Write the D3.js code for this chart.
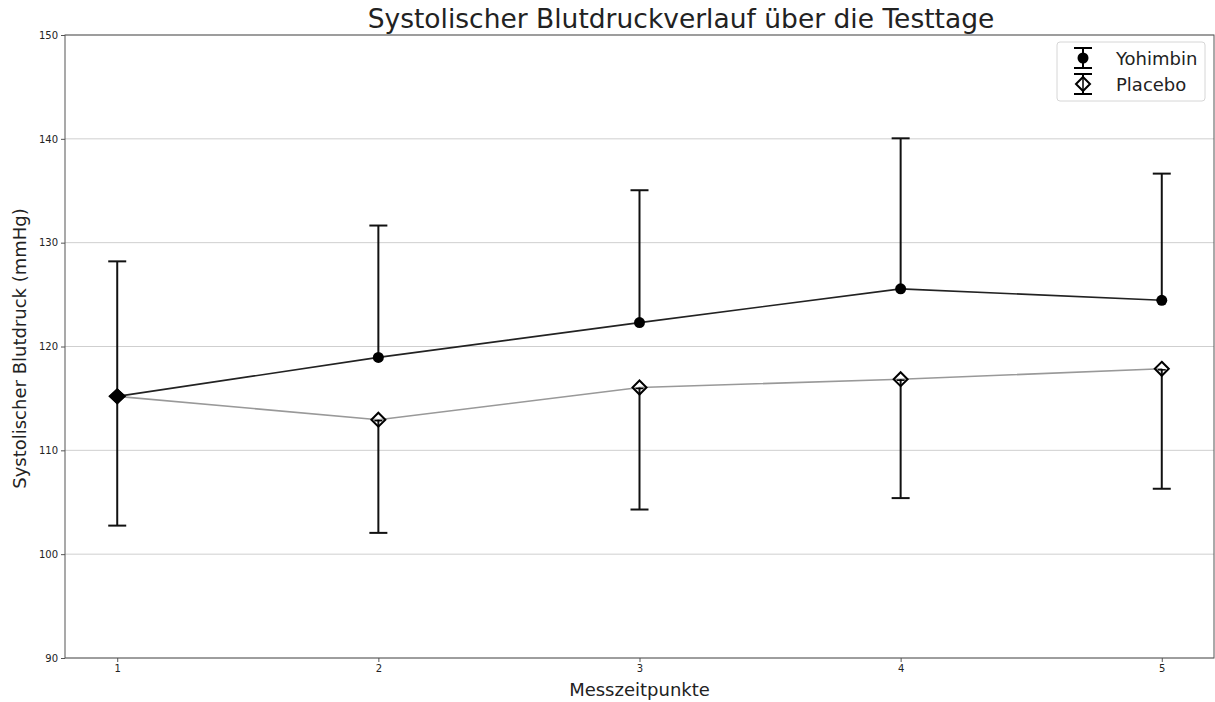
<!DOCTYPE html>
<html>
<head>
<meta charset="utf-8">
<script src="https://cdn.jsdelivr.net/npm/d3@7"></script>
<style>
  body { margin: 0; background: #fff; }
  text { font-family: "DejaVu Sans", sans-serif; }
</style>
</head>
<body>
<svg id="chart" width="1215" height="702"></svg>
<script>
const zeitpunkte = [1, 2, 3, 4, 5]
const yohimbinMean = [115.2, 118.95, 122.3, 125.55, 124.45]
const yohimbinUpper = [128.2, 131.65, 135.05, 140.05, 136.65]
const placeboMean = [115.2, 112.95, 116.05, 116.85, 117.85]
const placeboLower = [102.75, 102.05, 104.3, 105.4, 106.3]
const yTicks = [90, 100, 110, 120, 130, 140, 150]

const mLeft = 65, mRight = 1214, mTop = 35, mBottom = 658

const svg = d3.select('#chart')

const x = d3.scaleLinear().domain([0.8, 5.2]).range([mLeft, mRight])
const y = d3.scaleLinear().domain([90, 150]).range([mBottom, mTop])

// grid
svg.append('g')
  .selectAll('line')
  .data(yTicks)
  .enter()
  .append('line')
  .attr('x1', mLeft)
  .attr('x2', mRight)
  .attr('y1', d => y(d))
  .attr('y2', d => y(d))
  .attr('stroke', '#cfcfcf')
  .attr('stroke-width', 1)

// axes
const yAxis = svg.append('g')
  .attr('transform', `translate(${mLeft},0)`)
  .call(d3.axisLeft(y).tickValues(yTicks).tickSize(4).tickPadding(3))
yAxis.select('.domain').remove()

const xAxis = svg.append('g')
  .attr('transform', `translate(0,${mBottom})`)
  .call(d3.axisBottom(x).tickValues(zeitpunkte).tickSize(4).tickPadding(3).tickFormat(d3.format('d')))
xAxis.select('.domain').remove()

svg.selectAll('.tick line').attr('stroke', '#555')
svg.selectAll('.tick text')
  .attr('fill', '#222')
  .style('font-size', '10px')
  .style('font-family', 'DejaVu Sans')

// frame
svg.append('rect')
  .attr('x', mLeft)
  .attr('y', mTop)
  .attr('width', mRight - mLeft)
  .attr('height', mBottom - mTop)
  .attr('fill', 'none')
  .attr('stroke', '#555')
  .attr('stroke-width', 1)

const yoh = zeitpunkte.map((t, i) => ({t: t, m: yohimbinMean[i], e: yohimbinUpper[i]}))
const pla = zeitpunkte.map((t, i) => ({t: t, m: placeboMean[i], e: placeboLower[i]}))

const line = d3.line().x(d => x(d.t)).y(d => y(d.m))

svg.append('path')
  .datum(pla)
  .attr('d', line)
  .attr('fill', 'none')
  .attr('stroke', '#999')
  .attr('stroke-width', 1.6)

svg.append('path')
  .datum(yoh)
  .attr('d', line)
  .attr('fill', 'none')
  .attr('stroke', '#222')
  .attr('stroke-width', 1.6)

function errorBars(data) {
  let g = svg.append('g').selectAll('g').data(data).enter().append('g')
  g.append('line')
    .attr('x1', d => x(d.t)).attr('x2', d => x(d.t))
    .attr('y1', d => y(d.m)).attr('y2', d => y(d.e))
    .attr('stroke', '#111').attr('stroke-width', 2)
  g.append('line')
    .attr('x1', d => x(d.t) - 9).attr('x2', d => x(d.t) + 9)
    .attr('y1', d => y(d.e)).attr('y2', d => y(d.e))
    .attr('stroke', '#111').attr('stroke-width', 2)
}
errorBars(yoh)
errorBars(pla)

const diamond = 'M0,-7L7,0L0,7L-7,0Z'

// placebo markers
let pm = svg.append('g').selectAll('g').data(pla).enter().append('g')
  .attr('transform', d => `translate(${x(d.t)},${y(d.m)})`)
pm.append('path')
  .attr('d', diamond)
  .attr('fill', 'none')
  .attr('stroke', '#000')
  .attr('stroke-width', 2)
pm.append('line')
  .attr('x1', -4).attr('x2', 4).attr('y1', 1).attr('y2', 1)
  .attr('stroke', '#000').attr('stroke-width', 1.5)

// yohimbin markers
svg.append('g').selectAll('circle').data(yoh).enter().append('circle')
  .attr('cx', d => x(d.t))
  .attr('cy', d => y(d.m))
  .attr('r', 5.5)
  .attr('fill', '#000')

// first point: both series overlap, looks like a filled diamond
svg.append('path')
  .attr('transform', `translate(${x(yoh[0].t)},${y(yoh[0].m)})`)
  .attr('d', 'M0,-8L9,0L0,8L-9,0Z')
  .attr('fill', '#000')

// title and labels
svg.append('text')
  .attr('x', 681)
  .attr('y', 28)
  .style('text-anchor', 'middle')
  .style('font-size', '26.5px')
  .attr('fill', '#222')
  .text('Systolischer Blutdruckverlauf über die Testtage')

svg.append('text')
  .attr('x', (mLeft + mRight) / 2)
  .attr('y', 696)
  .style('text-anchor', 'middle')
  .style('font-size', '18px')
  .attr('fill', '#222')
  .text('Messzeitpunkte')

svg.append('text')
  .attr('transform', `translate(26,${(mTop + mBottom) / 2 + 2}) rotate(-90)`)
  .style('text-anchor', 'middle')
  .style('font-size', '18px')
  .attr('fill', '#222')
  .text('Systolischer Blutdruck (mmHg)')

// legend
const legend = svg.append('g')
legend.append('rect')
  .attr('x', 1057).attr('y', 42)
  .attr('width', 148).attr('height', 59)
  .attr('rx', 3)
  .attr('fill', 'rgba(255,255,255,0.8)')
  .attr('stroke', '#d6d6d6')

const legendItems = [{name: 'Yohimbin', type: 'circle'}, {name: 'Placebo', type: 'diamond'}]
let li = legend.selectAll('g.item').data(legendItems).enter().append('g')
  .attr('class', 'item')
  .attr('transform', (d, i) => `translate(1083,${58 + i * 26})`)
li.append('line').attr('x1', 0).attr('x2', 0).attr('y1', -10).attr('y2', 10)
  .attr('stroke', '#000').attr('stroke-width', 2)
li.append('line').attr('x1', -9).attr('x2', 9).attr('y1', -10).attr('y2', -10)
  .attr('stroke', '#000').attr('stroke-width', 2)
li.append('line').attr('x1', -9).attr('x2', 9).attr('y1', 10).attr('y2', 10)
  .attr('stroke', '#000').attr('stroke-width', 2)
li.filter(d => d.type == 'circle').append('circle').attr('r', 5.5).attr('fill', '#000')
li.filter(d => d.type == 'diamond').append('path').attr('d', diamond)
  .attr('fill', '#fff').attr('stroke', '#000').attr('stroke-width', 2)
li.filter(d => d.type == 'diamond').append('line')
  .attr('x1', 0).attr('x2', 0).attr('y1', -7).attr('y2', 7)
  .attr('stroke', '#000').attr('stroke-width', 1.5)
li.append('text')
  .attr('x', 33).attr('y', 7)
  .style('font-size', '18px')
  .attr('fill', '#222')
  .text(d => d.name)
</script>
</body>
</html>
